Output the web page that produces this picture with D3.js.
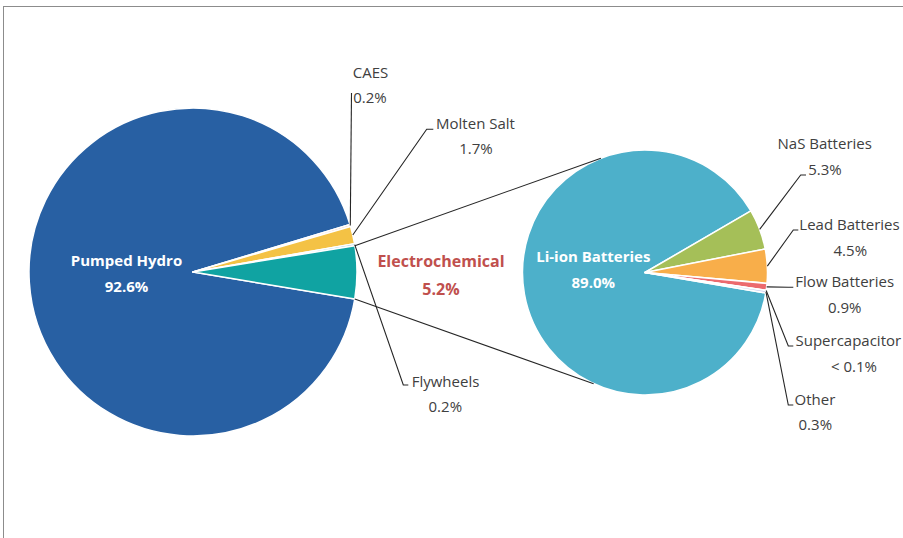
<!DOCTYPE html>
<html>
<head>
<meta charset="utf-8">
<script src="https://cdn.jsdelivr.net/npm/d3@7"></script>
<style>
  html, body { margin: 0; padding: 0; background: #fff; overflow: hidden; }
  svg { display: block; }
  text { font-family: "Open Sans", "Noto Sans", sans-serif; }
</style>
</head>
<body>
<svg id="chart" width="903" height="538"></svg>
<script>
// ---------- data ----------
const leftCategories = ["Pumped Hydro", "CAES", "Molten Salt", "Flywheels", "Electrochemical"];
const leftValues = [92.6, 0.2, 1.7, 0.2, 5.2];
const leftLabels = ["92.6%", "0.2%", "1.7%", "0.2%", "5.2%"];

const rightCategories = ["Li-ion Batteries", "NaS Batteries", "Lead Batteries", "Flow Batteries", "Supercapacitor", "Other"];
const rightValues = [89.0, 5.3, 4.5, 0.9, 0.05, 0.3];
const rightLabels = ["89.0%", "5.3%", "4.5%", "0.9%", "< 0.1%", "0.3%"];

// ---------- styles / layout ----------
const leftColors = ["#2860a3", "#f2c6b4", "#f4c245", "#a8d5e6", "#10a3a2"];
const rightColors = ["#4db0ca", "#a5bf58", "#f8ae4a", "#ec6a6e", "#8fa6dc", "#c6c9ee"];

const L = { cx: 193, cy: 272, r: 164, start: 99.5 };
const R = { cx: 645, cy: 272.5, r: 122.5, start: 99.6 };
const toRad = d => d * Math.PI / 180;

const leftLayout = [
  { inside: true, nx: 126.5, ny: 266, vx: 126.5, vy: 291.5, size: 15, color: "#ffffff" },
  { nx: 370.5, ny: 78.3, vx: 370, vy: 103.3, elbow: [351.5, 93], end: [351.5, 93] },
  { nx: 475.5, ny: 129.3, vx: 476, vy: 154.3, elbow: [426.7, 129.3], end: [433.3, 129.3] },
  { nx: 445.5, ny: 386.7, vx: 445.3, vy: 412.3, elbow: [403.3, 385], end: [408.3, 385] },
  { inside: true, nx: 441, ny: 266.7, vx: 441, vy: 295, size: 16, color: "#c0504d" }
];
const rightLayout = [
  { inside: true, nx: 593.3, ny: 262.3, vx: 593.3, vy: 288.3, size: 15, color: "#ffffff" },
  { nx: 824.7, ny: 149.3, vx: 825, vy: 175, elbow: [800.7, 175], end: [806, 175] },
  { nx: 849.5, ny: 230, vx: 850.3, vy: 255.7, elbow: [793.3, 230], end: [798.3, 230] },
  { nx: 844.7, ny: 287.3, vx: 844.7, vy: 312.7, elbow: [788.3, 287.3], end: [793.3, 287.3] },
  { nx: 795.5, ny: 346, nanchor: "start", vx: 854, vy: 371.7, elbow: [788.3, 346], end: [793.3, 346] },
  { nx: 815, ny: 405, vx: 815.3, vy: 430, elbow: [788.3, 405], end: [793.3, 405] }
];
const secondaryTopAngle = -21.1, secondaryBottomAngle = 204.8;

const svg = d3.select("#chart");

svg.append("rect")
  .attr("x", 3.5).attr("y", 6.5)
  .attr("width", 940).attr("height", 560)
  .attr("fill", "none").attr("stroke", "#8c8c8c").attr("stroke-width", 1);

function drawPie(cats, vals, labs, colors, layout, P) {
  const s = toRad(P.start);
  const pie = d3.pie().sort(null).value(d => d).startAngle(s).endAngle(s + 2 * Math.PI);
  const arcs = pie(vals);
  const arc = d3.arc().innerRadius(0).outerRadius(P.r);
  const g = svg.append("g").attr("transform", `translate(${P.cx},${P.cy})`);
  g.selectAll("path").data(arcs).join("path")
    .attr("d", arc)
    .attr("fill", (d, i) => colors[i])
    .attr("stroke", "#ffffff")
    .attr("stroke-width", 1.5)
    .attr("stroke-linejoin", "round");

  arcs.forEach((a, i) => {
    const lay = layout[i];
    if (lay.inside) {
      [[cats[i], lay.nx, lay.ny], [labs[i], lay.vx, lay.vy]].forEach(([t, x, y]) => {
        svg.append("text").attr("x", x).attr("y", y)
          .attr("text-anchor", "middle")
          .attr("font-size", lay.size).attr("font-weight", "bold")
          .attr("fill", lay.color).text(t);
      });
    } else {
      const m = (a.startAngle + a.endAngle) / 2;
      const sx = P.cx + P.r * Math.sin(m), sy = P.cy - P.r * Math.cos(m);
      svg.append("path")
        .attr("d", `M${sx},${sy}L${lay.elbow[0]},${lay.elbow[1]}L${lay.end[0]},${lay.end[1]}`)
        .attr("fill", "none").attr("stroke", "#262626").attr("stroke-width", 1.1);
      [[cats[i], lay.nx, lay.ny, lay.nanchor || "middle"], [labs[i], lay.vx, lay.vy, "middle"]].forEach(([t, x, y, an]) => {
        svg.append("text").attr("x", x).attr("y", y)
          .attr("text-anchor", an)
          .attr("font-size", 15)
          .attr("fill", "#404040").text(t);
      });
    }
  });
  return arcs;
}

const leftArcs = drawPie(leftCategories, leftValues, leftLabels, leftColors, leftLayout, L);
drawPie(rightCategories, rightValues, rightLabels, rightColors, rightLayout, R);

const split = leftArcs[leftArcs.length - 1];
const pt = (P, ang) => [P.cx + P.r * Math.sin(ang), P.cy - P.r * Math.cos(ang)];
const lt = pt(L, split.startAngle), lb = pt(L, split.endAngle);
const rt = pt(R, toRad(secondaryTopAngle)), rb = pt(R, toRad(secondaryBottomAngle));
svg.append("line").attr("x1", lt[0]).attr("y1", lt[1]).attr("x2", rt[0]).attr("y2", rt[1])
  .attr("stroke", "#262626").attr("stroke-width", 1.1);
svg.append("line").attr("x1", lb[0]).attr("y1", lb[1]).attr("x2", rb[0]).attr("y2", rb[1])
  .attr("stroke", "#262626").attr("stroke-width", 1.1);
</script>
</body>
</html>
